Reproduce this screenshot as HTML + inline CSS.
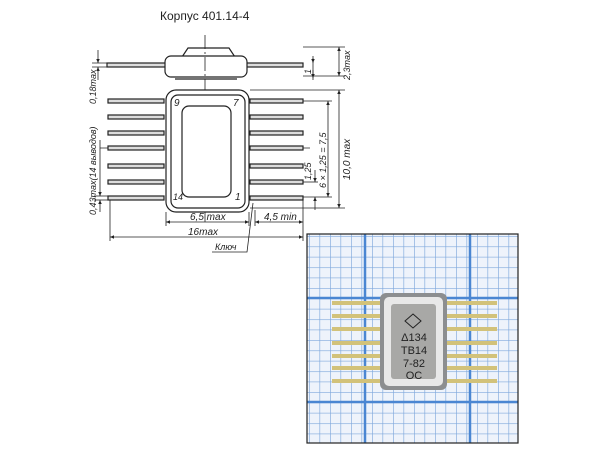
<!DOCTYPE html>
<html><head><meta charset="utf-8"><style>
html,body{margin:0;padding:0;background:#fff;width:600px;height:451px;overflow:hidden}
svg{display:block}
</style></head><body>
<svg width="600" height="451" viewBox="0 0 600 451" xmlns="http://www.w3.org/2000/svg">
<defs>
<marker id="a" markerWidth="6" markerHeight="6" refX="5" refY="3" orient="auto-start-reverse"><path d="M0,0.8 L5,3 L0,5.2 Z" fill="#222"/></marker>
<pattern id="gmin" width="10.5" height="10.4" patternUnits="userSpaceOnUse" x="309" y="236"><path d="M0,0 V10.4 M0,0 H10.5" stroke="#7fa8dc" stroke-width="1.3" fill="none"/></pattern>
</defs>
<text x="160" y="20" font-family="Liberation Sans, sans-serif" font-size="12" fill="#222">Корпус 401.14-4</text>

<g stroke="#222" fill="none" stroke-width="1.2">
<rect x="107" y="63" width="196" height="4" fill="#ddd"/>
<path d="M182,57 L188,48 L229,48 L235,57 Z" fill="#fff"/>
<rect x="165" y="56" width="82" height="21" rx="6" fill="#fff"/>
<line x1="175" y1="79" x2="237" y2="79"/>
<line x1="205" y1="35" x2="205" y2="222" stroke-width="0.8" stroke-dasharray="14,3,2,3"/>
<line x1="100" y1="148" x2="310" y2="148" stroke-width="0.8" stroke-dasharray="14,3,2,3"/>
<g fill="#ddd">
<rect x="108" y="99" width="56" height="4"/><rect x="108" y="115" width="56" height="4"/><rect x="108" y="131" width="56" height="4"/><rect x="108" y="146" width="56" height="4"/><rect x="108" y="164" width="56" height="4"/><rect x="108" y="180" width="56" height="4"/><rect x="108" y="196" width="56" height="4"/>
<rect x="250" y="99" width="53" height="4"/><rect x="250" y="115" width="53" height="4"/><rect x="250" y="131" width="53" height="4"/><rect x="250" y="146" width="53" height="4"/><rect x="250" y="164" width="53" height="4"/><rect x="250" y="180" width="53" height="4"/><rect x="250" y="196" width="53" height="4"/>
</g>
<rect x="166" y="90" width="83" height="122" rx="10" fill="#fff"/>
<rect x="171" y="95" width="74" height="113" rx="7"/>
<rect x="182" y="106" width="49" height="91" rx="7"/>
<g stroke-width="0.8">
<line x1="303" y1="47" x2="345" y2="47"/><line x1="303" y1="76" x2="345" y2="76"/>
<line x1="339" y1="47" x2="339" y2="76" marker-start="url(#a)" marker-end="url(#a)"/>
<line x1="313" y1="56" x2="313" y2="63" marker-end="url(#a)"/><line x1="313" y1="78" x2="313" y2="70" marker-start="url(#a)"/><line x1="313" y1="58" x2="313" y2="80"/>
<line x1="250" y1="90" x2="345" y2="90"/><line x1="250" y1="208" x2="345" y2="208"/>
<line x1="339" y1="90" x2="339" y2="208" marker-start="url(#a)" marker-end="url(#a)"/>
<line x1="303" y1="101" x2="332" y2="101"/><line x1="303" y1="197" x2="332" y2="197"/>
<line x1="328" y1="101" x2="328" y2="197" marker-start="url(#a)" marker-end="url(#a)"/>
<line x1="303" y1="182" x2="318" y2="182"/>
<line x1="315" y1="170" x2="315" y2="182" marker-end="url(#a)"/><line x1="315" y1="210" x2="315" y2="197" marker-end="url(#a)"/>
<line x1="92" y1="63" x2="110" y2="63"/><line x1="92" y1="67" x2="110" y2="67"/>
<line x1="98" y1="50" x2="98" y2="63" marker-end="url(#a)"/><line x1="98" y1="80" x2="98" y2="67" marker-end="url(#a)"/>
<line x1="100" y1="140" x2="100" y2="196" marker-end="url(#a)"/><line x1="100" y1="212" x2="100" y2="200" marker-end="url(#a)"/>
<line x1="94" y1="196" x2="110" y2="196"/><line x1="94" y1="200" x2="110" y2="200"/>
<line x1="166" y1="212" x2="166" y2="226"/><line x1="249" y1="212" x2="249" y2="226"/>
<line x1="166" y1="222" x2="249" y2="222" marker-start="url(#a)" marker-end="url(#a)"/>
<line x1="303" y1="200" x2="303" y2="241"/><line x1="255" y1="210" x2="255" y2="226"/>
<line x1="255" y1="222" x2="303" y2="222" marker-start="url(#a)" marker-end="url(#a)"/>
<line x1="110" y1="200" x2="110" y2="241"/>
<line x1="110" y1="237" x2="303" y2="237" marker-start="url(#a)" marker-end="url(#a)"/>
<path d="M212,252 L247,252 L253,203"/>
</g>
</g>
<g font-family="Liberation Sans, sans-serif" font-style="italic" font-size="10" fill="#222">
<text x="174" y="106">9</text><text x="233" y="106">7</text><text x="173" y="200" font-size="9">14</text><text x="235" y="200">1</text>
<text x="190" y="220">6,5 max</text><text x="264" y="220">4,5 min</text><text x="188" y="235">16max</text><text x="215" y="250" font-size="9">Ключ</text>
<text transform="translate(350,80) rotate(-90)" font-size="9">2,3max</text>
<text transform="translate(311,74) rotate(-90)" font-size="9">1</text>
<text transform="translate(350,180) rotate(-90)">10,0 max</text>
<text transform="translate(326,188) rotate(-90)" font-size="9">6 × 1,25 = 7,5</text>
<text transform="translate(311,180) rotate(-90)" font-size="9">1,25</text>
<text transform="translate(96,104) rotate(-90)" font-size="9">0,18max</text>
<text transform="translate(96,215) rotate(-90)" font-size="9">0,43max(14 выводов)</text>
</g>

<rect x="307" y="234" width="211" height="209" fill="#eef3fb"/>
<rect x="307" y="234" width="211" height="209" fill="url(#gmin)"/>
<g stroke="#4a86d2" stroke-width="2.5"><line x1="365" y1="234" x2="365" y2="443"/><line x1="470" y1="234" x2="470" y2="443"/><line x1="307" y1="298" x2="518" y2="298"/><line x1="307" y1="402" x2="518" y2="402"/></g>
<rect x="307" y="234" width="211" height="209" fill="none" stroke="#222" stroke-width="1.2"/>
<g fill="#d2c27a">
<rect x="332" y="301" width="50" height="4"/><rect x="332" y="314" width="50" height="4"/><rect x="332" y="327" width="50" height="4"/><rect x="332" y="341" width="50" height="4"/><rect x="332" y="354" width="50" height="4"/><rect x="332" y="366" width="50" height="4"/><rect x="332" y="379" width="50" height="4"/>
<rect x="445" y="301" width="52" height="4"/><rect x="445" y="314" width="52" height="4"/><rect x="445" y="327" width="52" height="4"/><rect x="445" y="341" width="52" height="4"/><rect x="445" y="354" width="52" height="4"/><rect x="445" y="366" width="52" height="4"/><rect x="445" y="379" width="52" height="4"/>
</g>
<rect x="380" y="293" width="67" height="97" rx="6" fill="#8c8e90"/>
<rect x="384" y="297" width="59" height="89" rx="5" fill="#e8e8e8"/>
<rect x="391" y="304" width="45" height="75" rx="3" fill="#a8a8a6"/>
<path d="M413,314 L421,321 L413,328 L405,321 Z" fill="none" stroke="#222" stroke-width="1"/>
<g font-family="Liberation Sans, sans-serif" font-size="11" fill="#222" text-anchor="middle">
<text x="414" y="341">Δ134</text><text x="414" y="354">ТВ14</text><text x="414" y="367">7-82</text><text x="414" y="379">ОС</text>
</g>
</svg>
</body></html>
